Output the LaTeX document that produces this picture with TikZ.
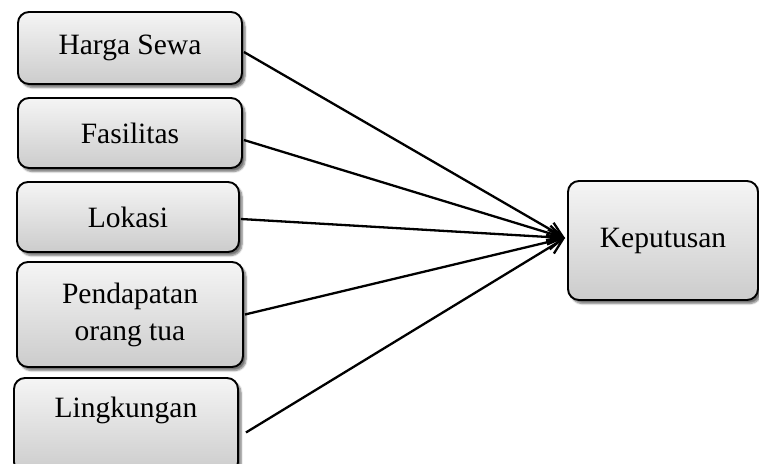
\documentclass[tikz,border=0pt]{standalone}
\usepackage{fontspec}
\setmainfont{Liberation Serif}
\usetikzlibrary{arrows.meta,shadows.blur}
\tikzset{
  box/.style={draw=black, line width=1.9pt, rounded corners=11pt,
    top color=gray!8, bottom color=gray!40,
    blur shadow={shadow xshift=3pt, shadow yshift=-3.5pt, shadow blur steps=6, shadow opacity=55},
    inner sep=0pt, align=center,
    font=\fontsize{29.5}{37}\selectfont},
  txt/.style={inner sep=0pt, font=\fontsize{29.5}{37}\selectfont},
  conn/.style={draw=black, line width=2.3pt, -{Straight Barb[length=15pt,width=15pt,line width=2.3pt]}}
}
\begin{document}
\begin{tikzpicture}[x=1pt,y=-1pt]
\useasboundingbox (0,0) rectangle (759,463);
\node[box, minimum width=224pt, minimum height=72pt] (harga) at (130,48) {Harga Sewa};
\node[box, minimum width=224pt, minimum height=70pt] (fas) at (130,133) {Fasilitas};
\node[box, minimum width=222pt, minimum height=70pt] (lok) at (128,217) {Lokasi};
\node[box, minimum width=226pt, minimum height=105pt] (pend) at (130,314.5) {Pendapatan\\orang tua};
\node[box, minimum width=224pt, minimum height=95pt] (ling) at (126,425.5) {};
\node[txt] (lingtxt) at (126,410) {Lingkungan};
\node[box, minimum width=190pt, minimum height=119pt] (kep) at (663,240.5) {Keputusan};
\coordinate (t) at (565,238);
\draw[conn] ([xshift=1pt,yshift=-4pt]harga.east) -- (t);
\draw[conn] ([xshift=1pt,yshift=-7pt]fas.east) -- (t);
\draw[conn] ([xshift=1pt,yshift=-2pt]lok.east) -- (t);
\draw[conn] ([xshift=1pt,yshift=0pt]pend.east) -- (t);
\draw[conn] ([xshift=7pt,yshift=-7pt]ling.east) -- (t);
\end{tikzpicture}
\end{document}
